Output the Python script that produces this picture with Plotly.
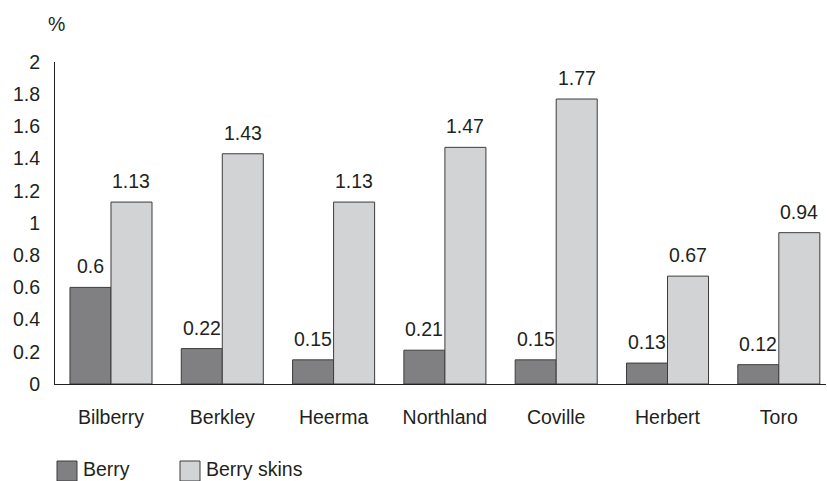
import plotly.graph_objects as go

# Anthocyanin-type content (%) per cultivar, whole berry vs. berry skins
cultivars = ["Bilberry", "Berkley", "Heerma", "Northland", "Coville", "Herbert", "Toro"]
berry = [0.6, 0.22, 0.15, 0.21, 0.15, 0.13, 0.12]
berry_skins = [1.13, 1.43, 1.13, 1.47, 1.77, 0.67, 0.94]
y_ticks = [0, 0.2, 0.4, 0.6, 0.8, 1, 1.2, 1.4, 1.6, 1.8, 2]
y_tick_text = ["0", "0.2", "0.4", "0.6", "0.8", "1", "1.2", "1.4", "1.6", "1.8", "2"]

DARK = "#808083"
LIGHT = "#d2d3d5"
EDGE = "#3c3c3c"
INK = "#231f20"
FONT = "Liberation Sans, Arial, sans-serif"
FS = 19.5

W, H = 827, 481
M = dict(l=55, r=1, t=62, b=97)
plot_w = W - M["l"] - M["r"]
x_range = [-0.503, 6.424]
px_per_cat = plot_w / (x_range[1] - x_range[0])
bargap = 0.263
bar_px = px_per_cat * (1 - bargap) / 2

fig = go.Figure()
fig.add_trace(go.Bar(name="Berry", x=cultivars, y=berry,
                     marker=dict(color=DARK, line=dict(color=EDGE, width=1)),
                     showlegend=False))
fig.add_trace(go.Bar(name="Berry skins", x=cultivars, y=berry_skins,
                     marker=dict(color=LIGHT, line=dict(color=EDGE, width=1)),
                     showlegend=False))

# value labels above each bar
for vals, shift in ((berry, -bar_px / 2), (berry_skins, bar_px / 2)):
    for c, v in zip(cultivars, vals):
        fig.add_annotation(x=c, y=v, text=f"{v:g}", showarrow=False,
                           xshift=shift, yshift=8, yanchor="bottom",
                           font=dict(family=FONT, size=FS, color=INK))

# unit label
fig.add_annotation(xref="paper", yref="paper", x=0.002, y=1.118, text="%",
                   showarrow=False, xanchor="center", yanchor="middle",
                   font=dict(family=FONT, size=FS, color=INK))

# legend drawn below the axis
plot_h = H - M["t"] - M["b"]
def px_to_paper(px, py):
    return (px - M["l"]) / plot_w, (H - M["b"] - py) / plot_h

for (x0, label, color) in ((57, "Berry", DARK), (180, "Berry skins", LIGHT)):
    ax0, ay0 = px_to_paper(x0, 461)
    ax1, ay1 = px_to_paper(x0 + 20, 481)
    fig.add_shape(type="rect", xref="paper", yref="paper",
                  x0=ax0, x1=ax1, y0=ay1, y1=ay0,
                  fillcolor=color, line=dict(color=EDGE, width=1))
    tx, ty = px_to_paper(x0 + 24, 469)
    fig.add_annotation(xref="paper", yref="paper", x=tx, y=ty, text=label,
                       showarrow=False, xanchor="left", yanchor="middle",
                       font=dict(family=FONT, size=FS, color=INK))

fig.update_layout(
    width=W, height=H, margin=M,
    paper_bgcolor="white", plot_bgcolor="white",
    barmode="group", bargap=bargap, bargroupgap=0,
    font=dict(family=FONT, size=FS, color=INK),
)
fig.update_xaxes(range=x_range, showline=True, linecolor=INK, linewidth=1,
                 showgrid=False, ticks="", ticklabelstandoff=16,
                 tickfont=dict(family=FONT, size=FS, color=INK))
fig.update_yaxes(range=[0, 2], tickvals=y_ticks, ticktext=y_tick_text,
                 showline=True, linecolor=INK, linewidth=1, showgrid=False,
                 zeroline=False, ticks="", ticklabelstandoff=10,
                 tickfont=dict(family=FONT, size=FS, color=INK))

fig.write_html("out.html")
